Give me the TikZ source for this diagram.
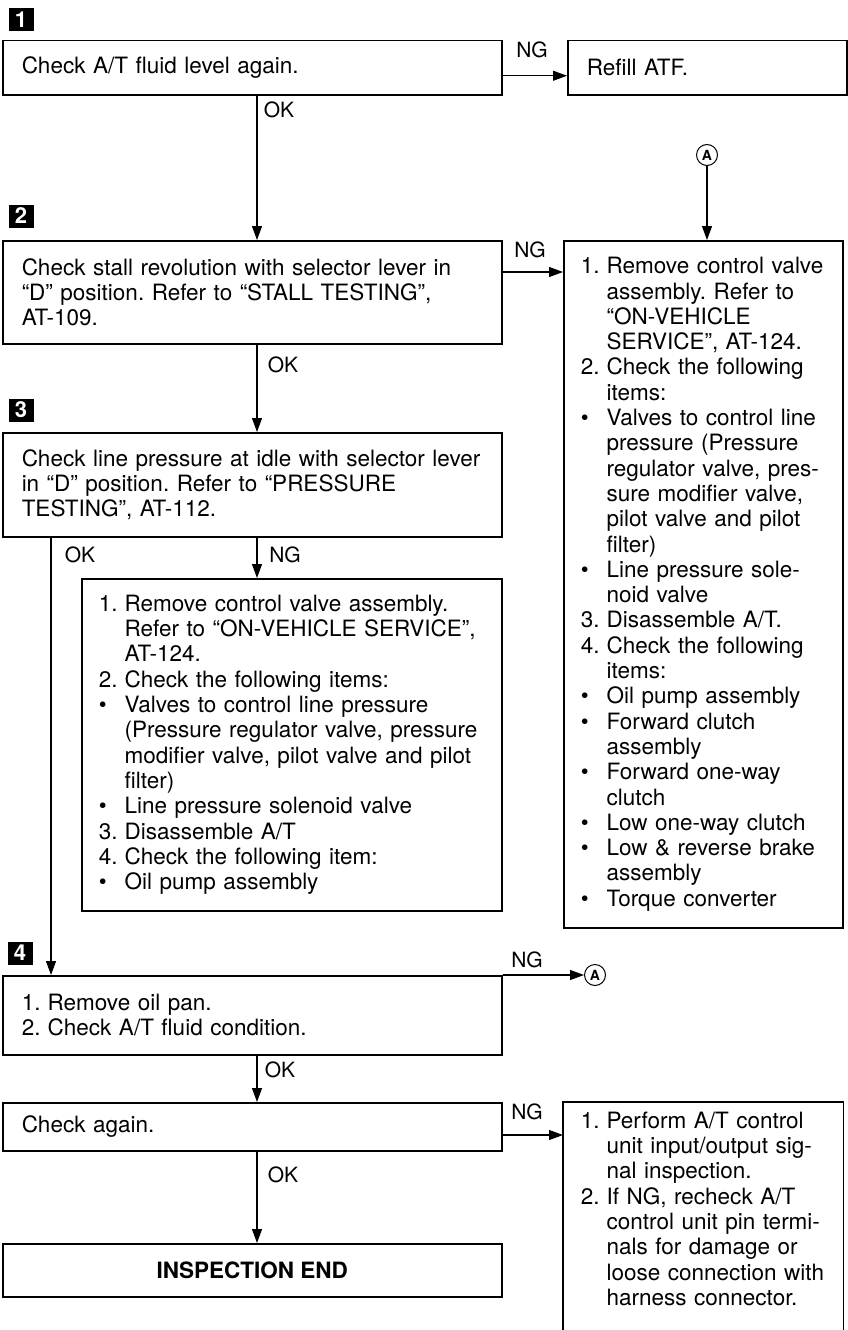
\documentclass[tikz,border=0pt]{standalone}
\usepackage{fontspec}
\setmainfont{TeX Gyre Heros}
\usetikzlibrary{arrows.meta,positioning}
\frenchspacing
\newcommand{\nr}[1]{\makebox[1.15em][l]{#1}}
\newcommand{\ind}{\hspace*{1.15em}}
\newcommand{\bul}{\textbullet}

\begin{document}
\begin{tikzpicture}[x=1pt,y=-1pt,>={Triangle[length=14pt,width=10pt]},
  font=\fontsize{22.5}{25.3}\selectfont,
  box/.style={draw,line width=1.5pt,anchor=north west,align=left,inner ysep=0pt,inner xsep=19pt},
  lbl/.style={inner sep=0pt,font=\fontsize{21}{21}\selectfont},
  numtag/.style={fill=black,text=white,minimum width=25pt,minimum height=23pt,inner sep=0pt,
    font=\fontsize{22}{22}\selectfont\bfseries},
  circA/.style={draw,circle,line width=1pt,minimum size=21pt,inner sep=0pt,
    font=\fontsize{14}{14}\selectfont\bfseries},
  link/.style={->,line width=1.1pt}]
\useasboundingbox (0,0) rectangle (847,1330);
\coordinate (okx) at (257,0);
\coordinate (leftx) at (51,0);

% step 1
\node[numtag] (t1) at (21,20) {1};
\node[box,text width=461pt,minimum height=54pt] (b1) at (2,40) {Check A/T fluid level again.};
\node[box,text width=241pt,minimum height=54pt] (refill) at (567,40) {Refill ATF.};
\draw[link] ([yshift=-8pt]b1.east) -- ([yshift=-8pt]refill.west);
\node[lbl] (ng1) at (532,50) {NG};
\node[lbl] (ok1) at (279,110) {OK};

% step 2
\node[numtag] (t2) at (21,216) {2};
\node[box,text width=461pt,minimum height=103pt] (b2) at (2,240)
  {Check stall revolution with selector lever in\\
   “D” position. Refer to “STALL TESTING”,\\
   AT-109.};
\draw[link] (okx |- b1.south) -- (okx |- b2.north);
\node[circA] (A1) at (707,155) {A};
\node[box,text width=245pt,inner xsep=17pt,minimum height=687pt] (R) at (563,240)
  {\nr{1.}Remove control valve\\
   \ind assembly. Refer to\\
   \ind “ON-VEHICLE\\
   \ind SERVICE”, AT-124.\\
   \nr{2.}Check the following\\
   \ind items:\\
   \nr{\bul}Valves to control line\\
   \ind pressure (Pressure\\
   \ind regulator valve, pres-\\
   \ind sure modifier valve,\\
   \ind pilot valve and pilot\\
   \ind filter)\\
   \nr{\bul}Line pressure sole-\\
   \ind noid valve\\
   \nr{3.}Disassemble A/T.\\
   \nr{4.}Check the following\\
   \ind items:\\
   \nr{\bul}Oil pump assembly\\
   \nr{\bul}Forward clutch\\
   \ind assembly\\
   \nr{\bul}Forward one-way\\
   \ind clutch\\
   \nr{\bul}Low one-way clutch\\
   \nr{\bul}Low \& reverse brake\\
   \ind assembly\\
   \nr{\bul}Torque converter};
\draw[link] (A1) -- (A1 |- R.north);
\draw[link] ([yshift=-32pt]b2.north east) -- ([yshift=-32pt]R.north west);
\node[lbl] (ng2) at (530,250) {NG};
\node[lbl] (ok2) at (283,365) {OK};

% step 3
\node[numtag] (t3) at (21,410) {3};
\node[box,text width=461pt,minimum height=104pt] (b3) at (2,432)
  {Check line pressure at idle with selector lever\\
   in “D” position. Refer to “PRESSURE\\
   TESTING”, AT-112.};
\draw[link] (okx |- b2.south) -- (okx |- b3.north);
\node[box,text width=386pt,inner xsep=17pt,minimum height=332pt] (n3) at (81,578)
  {\nr{1.}Remove control valve assembly.\\
   \ind Refer to “ON-VEHICLE SERVICE”,\\
   \ind AT-124.\\
   \nr{2.}Check the following items:\\
   \nr{\bul}Valves to control line pressure\\
   \ind (Pressure regulator valve, pressure\\
   \ind modifier valve, pilot valve and pilot\\
   \ind filter)\\
   \nr{\bul}Line pressure solenoid valve\\
   \nr{3.}Disassemble A/T\\
   \nr{4.}Check the following item:\\
   \nr{\bul}Oil pump assembly};
\draw[link] (okx |- b3.south) -- (okx |- n3.north);
\node[lbl] (ok3) at (80,555) {OK};
\node[lbl] (ng3) at (285,555) {NG};

% step 4
\node[numtag] (t4) at (20,953) {4};
\node[box,text width=461pt,minimum height=79pt] (b4) at (2,975)
  {\nr{1.}Remove oil pan.\\
   \nr{2.}Check A/T fluid condition.};
\draw[link] (leftx |- b3.south) -- (leftx |- b4.north);
\node[circA] (A2) at (595,975) {A};
\draw[link] (b4.north east) -- (A2.west);
\node[lbl] (ng4) at (527,960) {NG};
\node[lbl] (ok4) at (280,1070) {OK};

% check again
\node[box,text width=461pt,minimum height=48pt] (b5) at (2,1102) {Check again.};
\draw[link] (okx |- b4.south) -- (okx |- b5.north);
\node[box,draw=none,text width=245pt,inner xsep=17pt,inner ysep=9pt] (b6) at (563,1102)
  {\nr{1.}Perform A/T control\\
   \ind unit input/output sig-\\
   \ind nal inspection.\\
   \nr{2.}If NG, recheck A/T\\
   \ind control unit pin termi-\\
   \ind nals for damage or\\
   \ind loose connection with\\
   \ind harness connector.};
\draw[line width=1.5pt] (b6.north west) ++(0,240) -- (b6.north west) -- (b6.north east) -- ++(0,240);
\draw[link] ([yshift=-33pt]b5.north east) -- ([yshift=-33pt]b6.north west);
\node[lbl] (ng5) at (527,1112) {NG};
\node[lbl] (ok5) at (283,1175) {OK};

\node[box,minimum width=499pt,minimum height=53pt,align=center,font=\fontsize{22.5}{25.3}\selectfont\bfseries] (bend) at (2,1243) {INSPECTION END};
\draw[link] (okx |- b5.south) -- (okx |- bend.north);
\end{tikzpicture}
\end{document}
